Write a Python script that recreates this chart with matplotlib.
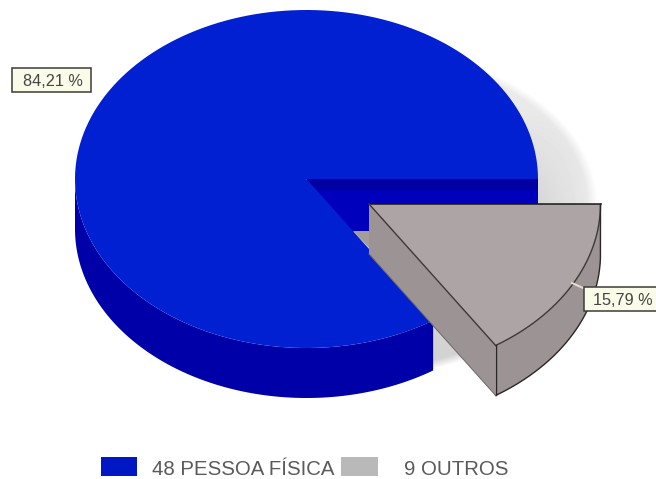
import numpy as np
import matplotlib
matplotlib.use("Agg")
import matplotlib.pyplot as plt
from matplotlib.patches import Polygon, Rectangle

# Portfolio split by holder type
categories = ["PESSOA FÍSICA", "OUTROS"]
counts = [48, 9]
top_colors = ["#0020d2", "#aca4a5"]
side_colors = ["#0000a8", "#9c9494"]
legend_colors = ["#0018c4", "#b9b9b9"]

W, H = 656, 479
CX, CY = 306.5, 179.0
RX, RY = 231.5, 169.0
DEPTH = 50.0
EXPLODE = (62.5, 25.0)

plt.rcParams["font.family"] = ["Liberation Sans", "DejaVu Sans"]
fig = plt.figure(figsize=(W / 100, H / 100), dpi=100)
ax = fig.add_axes([0, 0, 1, 1])
ax.set_xlim(0, W)
ax.set_ylim(H, 0)
ax.axis("off")


def arc(t0, t1, cx, cy, n=160):
    t = np.radians(np.linspace(t0, t1, n))
    return np.column_stack([cx + RX * np.cos(t), cy + RY * np.sin(t)])


def poly(points, color, z, edge="none", lw=0.0):
    ax.add_patch(Polygon(points, closed=True, facecolor=color, edgecolor=edge,
                         linewidth=lw, zorder=z, joinstyle="round"))


total = sum(counts)
sweep = 360.0 * counts[1] / total
shares = [f"{100 * c / total:.2f}".replace(".", ",") + " %" for c in counts]
ax_x, ax_y = CX + EXPLODE[0], CY + EXPLODE[1]

# Soft shadow behind the pie: darkest low down next to it, feathered at its rim
xs, ys = np.meshgrid(np.arange(400, 640) + 0.5, np.arange(60, 400) + 0.5)
ry_map = np.where(ys < ax_y, 155.0, 172.0)
reach = np.hypot((xs - ax_x) / 229.0, (ys - ax_y) / ry_map)
feather = np.clip((1 - reach) * 229.0 / 11.0, 0, 1)
near_pie = np.clip(1 - (xs - 530) / 60, 0, 1) * np.clip((ys - 110) / 90, 0, 1)
strength = 0.085 + 0.085 * near_pie
shade = 1 - strength * feather
ax.imshow(shade, extent=(400, 640, 400, 60), cmap="gray", vmin=0, vmax=1,
          zorder=1, aspect="auto", interpolation="bilinear")

# Main slice: cut face, outer wall, top
poly([(CX, CY), (CX + RX, CY), (CX + RX, CY + DEPTH + 3), (CX, CY + DEPTH + 3)], "#0000bc", 2)
poly([(CX, CY), (CX + RX, CY), (CX + RX, CY + 11), (CX, CY + 11)], "#0000a2", 2.5)
rim = arc(sweep, 180, CX, CY)
poly(np.vstack([rim, (rim + [0, DEPTH])[::-1]]), side_colors[0], 3)
poly(np.vstack([[(CX, CY)], arc(sweep, 360, CX, CY)]), top_colors[0], 4)

# Sliver of the pulled-out slice's inner wall
slope = (RY * np.sin(np.radians(sweep))) / (RX * np.cos(np.radians(sweep)))
poly([(ax_x - 16, ax_y + 27), (ax_x, ax_y + 27),
      (ax_x, CY + slope * EXPLODE[0] - 1)], "#a59d99", 5)

# Pulled-out slice: walls, top and outlines
outer = arc(0, sweep, ax_x, ax_y)
tip = outer[-1]
apex = np.array([ax_x, ax_y])
corner = np.array([ax_x + RX, ax_y])
down = np.array([0, DEPTH])
line = "#2b2626"
poly([apex, tip, tip + down, apex + down], side_colors[1], 6)
poly(np.vstack([outer, (outer + down)[::-1]]), side_colors[1], 7)
poly(np.vstack([[apex], outer]), top_colors[1], 8)
ax.plot(*np.array([apex, corner]).T, color="#1a1616", lw=1.1, zorder=9)
ax.plot(*np.array([apex, tip]).T, color="#3f3838", lw=1.0, zorder=9)
ax.plot(*outer.T, color="#3f3838", lw=1.0, zorder=9)
ax.plot(*np.vstack([[corner], outer + down]).T, color=line, lw=1.0, zorder=9)
ax.plot(*np.array([tip, tip + down]).T, color=line, lw=1.0, zorder=9)
ax.plot(*np.array([apex + down, tip + down]).T, color="#6e6868", lw=0.7, zorder=9)

# Leader from the slice to its tag
ax.plot([572, 583], [283, 288], color="#e6dfd2", lw=1.4, zorder=10)


def tag(x0, y0, x1, y1, text):
    ax.add_patch(Rectangle((x0, y0), x1 - x0, y1 - y0, facecolor="#fbfbea",
                           edgecolor="#3c3c34", linewidth=1.1, zorder=11))
    ax.text((x0 + x1) / 2 + 1, (y0 + y1) / 2, text, ha="center", va="center_baseline",
            fontsize=11.7, color="#444444", zorder=12)


tag(12, 68, 91, 92, shares[0])
tag(583.5, 287, 660, 311, shares[1])

# Legend
ax.add_patch(Rectangle((101, 457), 36, 19, facecolor=legend_colors[0], edgecolor="none", zorder=5))
ax.add_patch(Rectangle((341, 457), 37, 19, facecolor=legend_colors[1], edgecolor="none", zorder=5))
ax.text(152, 467.5, f"{counts[0]} {categories[0]}", ha="left", va="center_baseline",
        fontsize=14.7, color="#5a5a5a")
ax.text(404, 467.5, f"{counts[1]} {categories[1]}", ha="left", va="center_baseline",
        fontsize=14.7, color="#5a5a5a")

fig.savefig("out.png", dpi=100, facecolor="white")
